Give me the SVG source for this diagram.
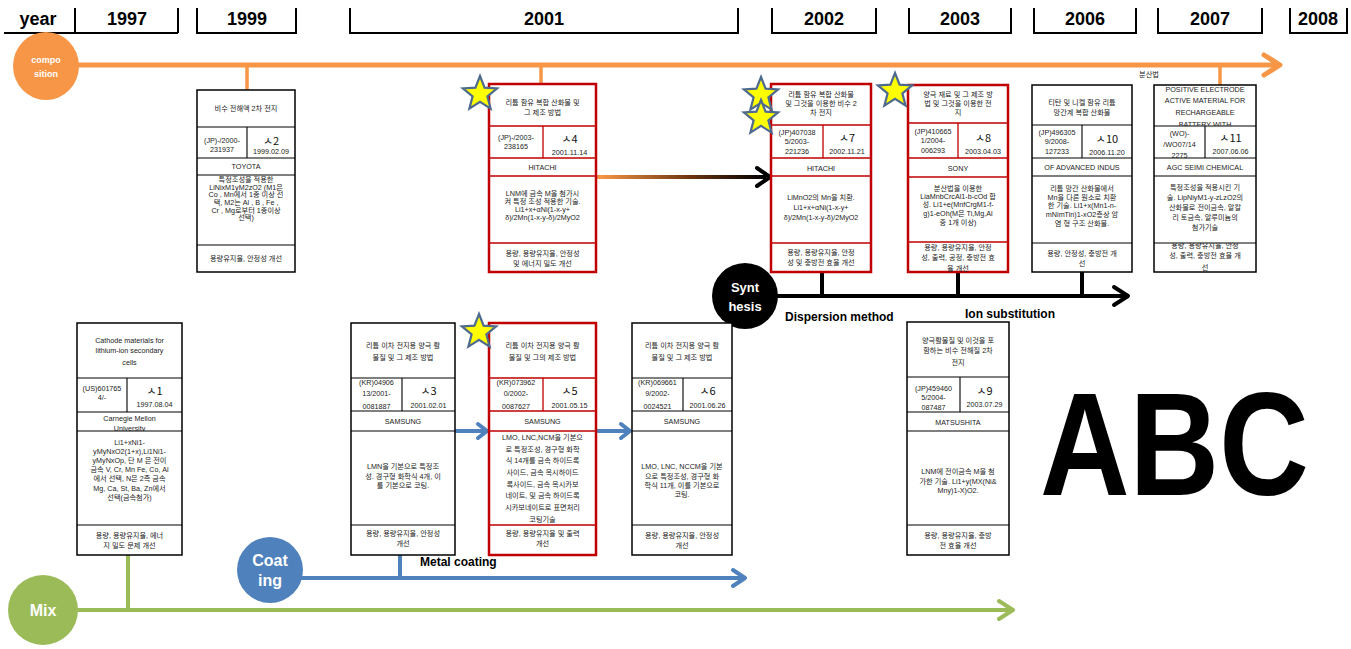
<svg xmlns="http://www.w3.org/2000/svg" width="1351" height="649" viewBox="0 0 1351 649">
<style>
.yr{font-family:"Liberation Sans","DejaVu Sans",sans-serif;font-weight:bold;font-size:18px;text-anchor:middle;fill:#000}
.hdr{fill:none;stroke:#000;stroke-width:2}
.cb{fill:#fff;stroke:#000;stroke-width:1.5}
.red .cb{stroke:#C00000;stroke-width:2.5}
.cl{fill:none;stroke:#000;stroke-width:1.1}
.red .cl{stroke:#C00000;stroke-width:1.3}
.t{font-family:"Liberation Sans","Noto Sans CJK KR",sans-serif;font-size:7.2px;text-anchor:middle;fill:#222}
.n{font-family:"Noto Sans CJK KR","Liberation Sans",sans-serif;font-size:11px;text-anchor:middle;fill:#111}
.lbl{font-family:"Liberation Sans","DejaVu Sans",sans-serif;font-weight:bold;font-size:12px;fill:#000}
.ct{font-family:"Liberation Sans","DejaVu Sans",sans-serif;font-weight:bold;text-anchor:middle;fill:#fff}
.star{fill:#FFFF00;stroke:#4F6A8F;stroke-width:2.2;stroke-linejoin:miter}
</style>
<defs>
<path id="star" class="star" d="M0,-18 L4.6,-6.3 L17.1,-5.6 L7.4,2.4 L10.6,14.6 L0,7.8 L-10.6,14.6 L-7.4,2.4 L-17.1,-5.6 L-4.6,-6.3 Z"/>
<linearGradient id="og" gradientUnits="userSpaceOnUse" x1="600" y1="0" x2="765" y2="0">
<stop offset="0" stop-color="#F79646"/><stop offset="0.55" stop-color="#6b3410"/><stop offset="1" stop-color="#000"/>
</linearGradient>
<clipPath id="cF1"><rect x="1154" y="85" width="102" height="41"/></clipPath>
<clipPath id="cF2"><rect x="1154" y="126" width="51" height="32"/></clipPath>
<clipPath id="cF3"><rect x="1154" y="243" width="102" height="29"/></clipPath>
<clipPath id="cD3"><rect x="908" y="242" width="100" height="30"/></clipPath>
<clipPath id="cE1"><rect x="1032" y="158" width="100" height="18"/></clipPath>
<clipPath id="cG1"><rect x="77" y="412" width="106" height="19"/></clipPath>
</defs>
<rect width="1351" height="649" fill="#fff"/>

<g id="year-header">
<path class="hdr" d="M4,33 H178 M75,33 V8 M178,33 V8 M197,8 V33 H296 V8 M350,8 V33 H738 V8 M772,8 V33 H876 V8 M909,8 V33 H1011 V8 M1034,8 V33 H1136 V8 M1158,8 V33 H1262 V8 M1290,8 V33 H1347 V8"/>
<text class="yr" x="38" y="25">year</text>
<text class="yr" x="127" y="25">1997</text>
<text class="yr" x="247" y="25">1999</text>
<text class="yr" x="544" y="25">2001</text>
<text class="yr" x="824" y="25">2002</text>
<text class="yr" x="960" y="25">2003</text>
<text class="yr" x="1085" y="25">2006</text>
<text class="yr" x="1210" y="25">2007</text>
<text class="yr" x="1318" y="25">2008</text>
</g>

<g id="connectors">
<g stroke="#F79646" fill="none" stroke-linecap="round">
<path d="M70,65 H1278" stroke-width="5"/>
<path d="M1264,55 L1280,65 L1264,75" stroke-width="5" stroke-linejoin="round"/>
<path d="M247,65 V90 M541,65 V84 M1220,65 V85" stroke-width="3.5"/>
</g>
<path d="M597,177 H766" stroke="url(#og)" stroke-width="4" fill="none"/>
<path d="M757,168 L770,177 L757,186" stroke="#000" stroke-width="4" fill="none" stroke-linecap="round" stroke-linejoin="round"/>
<g stroke="#000" fill="none" stroke-linecap="round">
<path d="M770,296 H1125" stroke-width="4"/>
<path d="M1114,287 L1128,296 L1114,305" stroke-width="4" stroke-linejoin="round"/>
<path d="M822,272 V296 M958,272 V296 M1082,272 V296" stroke-width="4"/>
</g>
<g stroke="#4F81BD" fill="none" stroke-linecap="round" stroke-linejoin="round">
<path d="M456,431 H485 M478,424 L487,431 L478,438" stroke-width="4"/>
<path d="M598,431 H628 M621,424 L630,431 L621,438" stroke-width="4"/>
<path d="M300,578 H742 M733,570 L745,578 L733,586" stroke-width="4"/>
<path d="M400,556 V578" stroke-width="4"/>
</g>
<g stroke="#9BBB59" fill="none" stroke-linecap="round" stroke-linejoin="round">
<path d="M75,610 H1010 M999,601 L1013,610 L999,619" stroke-width="4"/>
<path d="M128,556 V610" stroke-width="4"/>
</g>
</g>

<g id="node-composition">
<ellipse cx="46" cy="66" rx="33" ry="34" fill="#F79646"/>
<text class="ct" x="46" y="63" font-size="9">compo</text>
<text class="ct" x="46" y="77" font-size="9">sition</text>
</g>
<text x="1149" y="77" class="t" font-size="7">분산법</text>

<g id="node-synthesis">
<circle cx="745" cy="296" r="33" fill="#000"/>
<text class="ct" x="745" y="292" font-size="13">Synt</text>
<text class="ct" x="745" y="311" font-size="13">hesis</text>
</g>
<text class="lbl" x="785" y="321">Dispersion method</text>
<text class="lbl" x="965" y="318" font-size="13">Ion substitution</text>

<g id="node-coating">
<circle cx="270" cy="570" r="33" fill="#4F81BD"/>
<text class="ct" x="270" y="566" font-size="16">Coat</text>
<text class="ct" x="270" y="586" font-size="16">ing</text>
</g>
<text class="lbl" x="420" y="566">Metal coating</text>

<g id="node-mix">
<circle cx="43" cy="610" r="35" fill="#9BBB59"/>
<text class="ct" x="43" y="616" font-size="16">Mix</text>
</g>

<g id="card-2">
<rect class="cb" x="197" y="90" width="98" height="182"/>
<path class="cl" d="M197,127 H295 M197,158 H295 M197,175 H295 M197,245 H295 M247,127 V158"/>
<text class="t" x="246" y="111">비수 전해액 2차 전지</text>
<text class="t" x="222" y="143">(JP)-/2000-</text>
<text class="t" x="222" y="152">231937</text>
<text class="n" x="271" y="145">ㅅ2</text>
<text class="t" x="271" y="154">1999.02.09</text>
<text class="t" x="246" y="169">TOYOTA</text>
<text class="t" x="246" y="182">특정조성을 적용한</text>
<text class="t" x="246" y="190">LiNixM1yM2zO2 (M1은</text>
<text class="t" x="246" y="197">Co , Mn에서 1종 이상 선</text>
<text class="t" x="246" y="205">택, M2는 Al , B , Fe ,</text>
<text class="t" x="246" y="213">Cr , Mg로부터 1종이상</text>
<text class="t" x="246" y="220">선택)</text>
<text class="t" x="246" y="261">용량유지율, 안정성 개선</text>
</g>

<g id="card-4" class="red">
<rect class="cb" x="489" y="84" width="107" height="188"/>
<path class="cl" d="M489,126 H596 M489,158 H596 M489,176 H596 M489,243 H596 M543,126 V158"/>
<text class="t" x="542.5" y="105">리튬 함유 복합 산화물 및</text>
<text class="t" x="542.5" y="115">그 제조 방법</text>
<text class="t" x="516" y="140">(JP)-/2003-</text>
<text class="t" x="516" y="149">238165</text>
<text class="n" x="569.5" y="143">ㅅ4</text>
<text class="t" x="569.5" y="155">2001.11.14</text>
<text class="t" x="542.5" y="170">HITACHI</text>
<text class="t" x="542.5" y="196">LNM에 금속 M을 첨가시</text>
<text class="t" x="542.5" y="204">켜 특정 조성 적용한 기술.</text>
<text class="t" x="542.5" y="212">Li1+x+αNi(1-x-y+</text>
<text class="t" x="542.5" y="220">δ)/2Mn(1-x-y-δ)/2MyO2</text>
<text class="t" x="542.5" y="256">용량, 용량유지율, 안정성</text>
<text class="t" x="542.5" y="266">및 에너지 밀도 개선</text>
</g>

<g id="card-7" class="red">
<rect class="cb" x="771" y="84" width="100" height="188"/>
<path class="cl" d="M771,125 H871 M771,158 H871 M771,176 H871 M771,243 H871 M823,125 V158"/>
<text class="t" x="821" y="97">리튬 함유 복합 산화물</text>
<text class="t" x="821" y="106">및 그것을 이용한 비수 2</text>
<text class="t" x="821" y="115">차 전지</text>
<text class="t" x="797" y="135">(JP)407038</text>
<text class="t" x="797" y="144">5/2003-</text>
<text class="t" x="797" y="154">221236</text>
<text class="n" x="847" y="142">ㅅ7</text>
<text class="t" x="847" y="154">2002.11.21</text>
<text class="t" x="821" y="171">HITACHI</text>
<text class="t" x="821" y="200">LiMnO2의 Mn을 치환.</text>
<text class="t" x="821" y="210">Li1+x+αNi(1-x-y+</text>
<text class="t" x="821" y="220">δ)/2Mn(1-x-y-δ)/2MyO2</text>
<text class="t" x="821" y="255">용량, 용량유지율, 안정</text>
<text class="t" x="821" y="265">성 및 충방전 효율 개선</text>
</g>

<g id="card-8" class="red">
<rect class="cb" x="908" y="85" width="100" height="187"/>
<path class="cl" d="M908,123 H1008 M908,158 H1008 M908,177 H1008 M908,242 H1008 M958,123 V158"/>
<text class="t" x="958" y="97">양극 재료 및 그 제조 방</text>
<text class="t" x="958" y="106">법 및 그것을 이용한 전</text>
<text class="t" x="958" y="115">지</text>
<text class="t" x="933" y="134">(JP)410665</text>
<text class="t" x="933" y="143">1/2004-</text>
<text class="t" x="933" y="153">006293</text>
<text class="n" x="983" y="142">ㅅ8</text>
<text class="t" x="983" y="154">2003.04.03</text>
<text class="t" x="958" y="171">SONY</text>
<text class="t" x="958" y="191">분산법을 이용한</text>
<text class="t" x="958" y="199">LiaMnbCrcAl1-b-cOd 합</text>
<text class="t" x="958" y="207">성. Li1+e(MnfCrgM1-f-</text>
<text class="t" x="958" y="216">g)1-eOh(M은 Ti,Mg,Al</text>
<text class="t" x="958" y="225">중 1개 이상)</text>
<g clip-path="url(#cD3)">
<text class="t" x="958" y="250">용량, 용량유지율, 안정</text>
<text class="t" x="958" y="260">성, 출력, 공정, 충방전 효</text>
<text class="t" x="958" y="271">율 개선</text>
</g>
</g>

<g id="card-10">
<rect class="cb" x="1032" y="85" width="100" height="187"/>
<path class="cl" d="M1032,125 H1132 M1032,158 H1132 M1032,176 H1132 M1032,243 H1132 M1082,125 V158"/>
<text class="t" x="1082" y="105">티탄 및 니켈 함유 리튬</text>
<text class="t" x="1082" y="115">망간계 복합 산화물</text>
<text class="t" x="1057" y="135">(JP)496305</text>
<text class="t" x="1057" y="144">9/2008-</text>
<text class="t" x="1057" y="154">127233</text>
<text class="n" x="1107" y="143">ㅅ10</text>
<text class="t" x="1107" y="155">2006.11.20</text>
<g clip-path="url(#cE1)"><text class="t" x="1082" y="170" font-size="8.5">OF ADVANCED INDUS</text></g>
<text class="t" x="1082" y="191">리튬 망간 산화물에서</text>
<text class="t" x="1082" y="200">Mn을 다른 원소로 치환</text>
<text class="t" x="1082" y="208">한 기술. Li1+x(Mn1-n-</text>
<text class="t" x="1082" y="217">mNimTin)1-xO2층상 암</text>
<text class="t" x="1082" y="226">염 형 구조 산화물.</text>
<text class="t" x="1082" y="256">용량, 안정성, 충방전 개</text>
<text class="t" x="1082" y="266">선</text>
</g>

<g id="card-11">
<rect class="cb" x="1154" y="85" width="102" height="187"/>
<path class="cl" d="M1154,126 H1256 M1154,158 H1256 M1154,176 H1256 M1154,243 H1256 M1205,126 V158"/>
<g clip-path="url(#cF1)">
<text class="t" x="1205" y="92">POSITIVE ELECTRODE</text>
<text class="t" x="1205" y="103">ACTIVE MATERIAL FOR</text>
<text class="t" x="1205" y="115">RECHARGEABLE</text>
<text class="t" x="1205" y="127">BATTERY WITH</text>
</g>
<g clip-path="url(#cF2)">
<text class="t" x="1179.5" y="136">(WO)-</text>
<text class="t" x="1179.5" y="147">/WO07/14</text>
<text class="t" x="1179.5" y="158">2275</text>
</g>
<text class="n" x="1230.5" y="142">ㅅ11</text>
<text class="t" x="1230.5" y="154">2007.06.06</text>
<text class="t" x="1205" y="170">AGC SEIMI CHEMICAL</text>
<text class="t" x="1205" y="190">특정조성을 적용시킨 기</text>
<text class="t" x="1205" y="200">술. LipNiyM1-y-zLzO2의</text>
<text class="t" x="1205" y="210">산화물로 전이금속, 알칼</text>
<text class="t" x="1205" y="220">리 토금속, 알루미늄의</text>
<text class="t" x="1205" y="230">첨가기술</text>
<g clip-path="url(#cF3)">
<text class="t" x="1205" y="248">용량, 용량유지율, 안정</text>
<text class="t" x="1205" y="258">성, 출력, 충방전 효율 개</text>
<text class="t" x="1205" y="270">선</text>
</g>
</g>

<g id="card-1">
<rect class="cb" x="77" y="323" width="105" height="232"/>
<path class="cl" d="M77,378 H182 M77,412 H182 M77,431 H182 M77,525 H182 M127,378 V412"/>
<text class="t" x="129.5" y="343">Cathode materials for</text>
<text class="t" x="129.5" y="353">lithium-ion secondary</text>
<text class="t" x="129.5" y="365">cells</text>
<text class="t" x="102" y="391">(US)601765</text>
<text class="t" x="102" y="400">4/-</text>
<text class="n" x="154.5" y="395">ㅅ1</text>
<text class="t" x="154.5" y="407">1997.08.04</text>
<g clip-path="url(#cG1)">
<text class="t" x="129.5" y="421">Carnegie Mellon</text>
<text class="t" x="129.5" y="431">University</text>
</g>
<text class="t" x="129.5" y="445">Li1+xNi1-</text>
<text class="t" x="129.5" y="454">yMyNxO2(1+x),Li1Ni1-</text>
<text class="t" x="129.5" y="463">yMyNxOp, 단 M 은 전이</text>
<text class="t" x="129.5" y="472">금속 V, Cr, Mn Fe, Co, Al</text>
<text class="t" x="129.5" y="481">에서 선택, N은 2족 금속</text>
<text class="t" x="129.5" y="491">Mg, Ca, St, Ba, Zn에서</text>
<text class="t" x="129.5" y="500">선택(금속첨가)</text>
<text class="t" x="129.5" y="538">용량, 용량유지율, 에너</text>
<text class="t" x="129.5" y="548">지 밀도 문제 개선</text>
</g>

<g id="card-3">
<rect class="cb" x="351" y="323" width="104" height="232"/>
<path class="cl" d="M351,378 H455 M351,411 H455 M351,431 H455 M351,525 H455 M402,378 V411"/>
<text class="t" x="403" y="348">리튬 이차 전지용 양극 활</text>
<text class="t" x="403" y="360">물질 및 그 제조 방법</text>
<text class="t" x="376.5" y="385">(KR)04906</text>
<text class="t" x="376.5" y="396">13/2001-</text>
<text class="t" x="376.5" y="409">0081887</text>
<text class="n" x="428.5" y="395">ㅅ3</text>
<text class="t" x="428.5" y="408">2001.02.01</text>
<text class="t" x="403" y="424">SAMSUNG</text>
<text class="t" x="403" y="469">LMN을 기본으로 특정조</text>
<text class="t" x="403" y="479">성. 경구형 화학식 4개, 이</text>
<text class="t" x="403" y="488">를 기본으로 코팅.</text>
<text class="t" x="403" y="536">용량, 용량유지율, 안정성</text>
<text class="t" x="403" y="546">개선</text>
</g>

<g id="card-5" class="red">
<rect class="cb" x="489" y="323" width="107" height="232"/>
<path class="cl" d="M489,378 H596 M489,411 H596 M489,431 H596 M489,525 H596 M543,378 V411"/>
<text class="t" x="542.5" y="348">리튬 이차 전지용 양극 활</text>
<text class="t" x="542.5" y="360">물질 및 그의 제조 방법</text>
<text class="t" x="516" y="385">(KR)073962</text>
<text class="t" x="516" y="396">0/2002-</text>
<text class="t" x="516" y="409">0087627</text>
<text class="n" x="569.5" y="395">ㅅ5</text>
<text class="t" x="569.5" y="408">2001.05.15</text>
<text class="t" x="542.5" y="424">SAMSUNG</text>
<text class="t" x="542.5" y="440">LMO, LNC,NCM을 기본으</text>
<text class="t" x="542.5" y="452">로 특정조성, 경구형 화학</text>
<text class="t" x="542.5" y="463">식 14개를 금속 하이드록</text>
<text class="t" x="542.5" y="475">사이드, 금속 옥시하이드</text>
<text class="t" x="542.5" y="487">록사이드, 금속 옥시카보</text>
<text class="t" x="542.5" y="498">네이트, 및 금속 하이드록</text>
<text class="t" x="542.5" y="510">시카보네이트로 표면처리</text>
<text class="t" x="542.5" y="522">코팅기술</text>
<text class="t" x="542.5" y="536">용량, 용량유지율 및 출력</text>
<text class="t" x="542.5" y="546">개선</text>
</g>

<g id="card-6">
<rect class="cb" x="632" y="323" width="100" height="232"/>
<path class="cl" d="M632,378 H732 M632,411 H732 M632,431 H732 M632,525 H732 M683,378 V411"/>
<text class="t" x="682" y="348">리튬 이차 전지용 양극 활</text>
<text class="t" x="682" y="360">물질 및 그 제조 방법</text>
<text class="t" x="657.5" y="385">(KR)069661</text>
<text class="t" x="657.5" y="396">9/2002-</text>
<text class="t" x="657.5" y="409">0024521</text>
<text class="n" x="707.5" y="395">ㅅ6</text>
<text class="t" x="707.5" y="408">2001.06.26</text>
<text class="t" x="682" y="424">SAMSUNG</text>
<text class="t" x="682" y="469">LMO, LNC, NCCM을 기본</text>
<text class="t" x="682" y="479">으로 특정조성, 경구형 화</text>
<text class="t" x="682" y="488">학식 11개, 이를 기본으로</text>
<text class="t" x="682" y="497">코팅.</text>
<text class="t" x="682" y="538">용량, 용량유지율, 안정성</text>
<text class="t" x="682" y="548">개선</text>
</g>

<g id="card-9">
<rect class="cb" x="907" y="322" width="102" height="233"/>
<path class="cl" d="M907,377 H1009 M907,412 H1009 M907,431 H1009 M907,525 H1009 M960,377 V412"/>
<text class="t" x="958" y="343">양극활물질 및 이것을 포</text>
<text class="t" x="958" y="353">함하는 비수 전해질 2차</text>
<text class="t" x="958" y="365">전지</text>
<text class="t" x="933.5" y="391">(JP)459460</text>
<text class="t" x="933.5" y="400">5/2004-</text>
<text class="t" x="933.5" y="410">087487</text>
<text class="n" x="984.5" y="395">ㅅ9</text>
<text class="t" x="984.5" y="407">2003.07.29</text>
<text class="t" x="958" y="425">MATSUSHITA</text>
<text class="t" x="958" y="474">LNM에 전이금속 M을 첨</text>
<text class="t" x="958" y="484">가한 기술. Li1+y(MX(Ni&amp;</text>
<text class="t" x="958" y="493">Mny)1-X)O2.</text>
<text class="t" x="958" y="538">용량, 용량유지율, 충방</text>
<text class="t" x="958" y="548">전 효율 개선</text>
</g>

<g id="stars">
<use href="#star" x="480" y="94"/>
<use href="#star" x="479" y="332"/>
<use href="#star" x="761" y="95"/>
<use href="#star" x="761" y="118"/>
<use href="#star" x="895" y="91"/>
</g>

<text transform="translate(1040,495) scale(0.85,1)" x="0" y="0" font-family="Liberation Sans, DejaVu Sans, sans-serif" font-weight="bold" font-size="146" fill="#000">ABC</text>
</svg>
